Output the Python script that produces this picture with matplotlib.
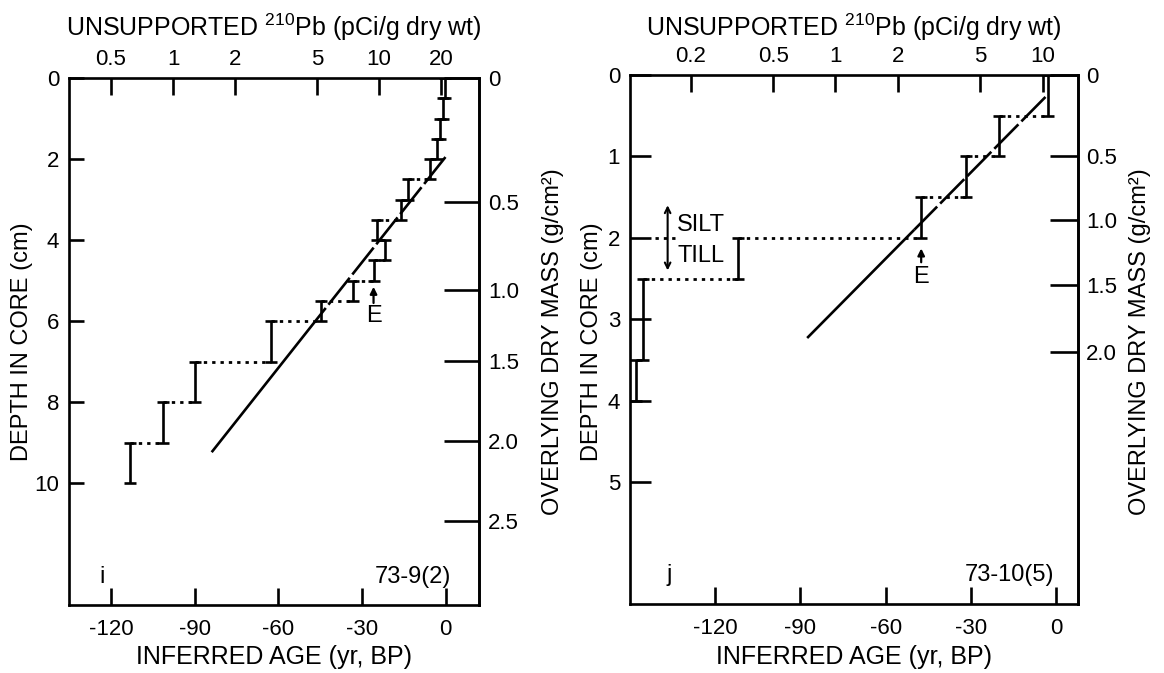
import matplotlib.pyplot as plt
from matplotlib.ticker import NullLocator

plt.rcParams['font.family'] = ['Liberation Sans', 'DejaVu Sans']
plt.rcParams['mathtext.fontset'] = 'custom'
plt.rcParams['mathtext.rm'] = 'Liberation Sans'

# ---------------------------
# Core 73-9(2)  (panel i)
# ---------------------------
i_top = [0, 0.5, 1.0, 1.5, 2.0, 2.5, 3.0, 3.5, 4.0, 4.5, 5.0, 5.5, 6.0, 7.0, 8.0, 9.0]
i_bot = [0.5, 1.0, 1.5, 2.0, 2.5, 3.0, 3.5, 4.0, 4.5, 5.0, 5.5, 6.0, 7.0, 8.0, 9.0, 10.0]
i_pb = [21.0, 20.4, 19.8, 19.0, 17.7, 13.8, 12.8, 9.8, 10.7, 9.4, 7.5, 5.2, 3.0, 1.28, 0.89, 0.62]
i_fit_depth = [1.95, 6.0, 9.23]
i_fit_pb = [21.0, 4.9, 1.54]
i_mass = ["0", "0.5", "1.0", "1.5", "2.0", "2.5"]
i_mass_depth = [0, 3.05, 5.22, 6.97, 8.96, 10.93]
i_depth_ticks = [0, 2, 4, 6, 8, 10]
i_pb_ticks = [0.5, 1, 2, 5, 10, 20]
i_pb_labels = ["0.5", "1", "2", "5", "10", "20"]
i_age_ticks = [-120, -90, -60, -30, 0]

# ---------------------------
# Core 73-10(5)  (panel j)
# ---------------------------
j_top = [0, 0.5, 1.0, 1.5, 2.0, 2.5, 3.5]
j_bot = [0.5, 1.0, 1.5, 2.0, 2.5, 3.5, 4.0]
j_pb = [10.6, 6.14, 4.27, 2.59, 0.338, 0.118, 0.109]
j_fit_depth = [0.27, 1.9, 3.23]
j_fit_pb = [10.3, 2.4, 0.73]
j_mass = ["0", "0.5", "1.0", "1.5", "2.0"]
j_mass_depth = [0, 1.0, 1.78, 2.58, 3.40]
j_depth_ticks = [0, 1, 2, 3, 4, 5]
j_pb_ticks = [0.2, 0.5, 1, 2, 5, 10]
j_pb_labels = ["0.2", "0.5", "1", "2", "5", "10"]
j_age_ticks = [-120, -90, -60, -30, 0]

LW = 1.9
TICKFS = 16
LABFS = 17


def panel(rect, top, bot, pb, fit_d, fit_pb, depth_max, pb_lim, age_lim,
          depth_ticks, pb_ticks, pb_labels, age_ticks, mass, mass_depth,
          ltick, rtick):
    ax = fig.add_axes(rect)
    ax.set_xlim(age_lim)
    ax.set_ylim(depth_max, 0)
    ax.set_xticks(age_ticks, labels=[str(a) for a in age_ticks])
    ax.set_yticks(depth_ticks, labels=[str(d) for d in depth_ticks])
    ax.tick_params(axis='x', direction='in', length=12, width=LW, pad=10,
                   labelsize=TICKFS)
    ax.tick_params(axis='y', direction='in', length=ltick, width=LW, pad=7,
                   labelsize=TICKFS)
    for s in ax.spines.values():
        s.set_linewidth(LW)

    tp = ax.twiny()
    tp.set_xscale('log')
    tp.set_xlim(pb_lim)
    tp.set_xticks(pb_ticks, labels=pb_labels)
    tp.xaxis.set_minor_locator(NullLocator())
    tp.tick_params(axis='x', direction='in', length=12, width=LW, pad=6,
                   labelsize=TICKFS)

    rs = ax.secondary_yaxis('right')
    rs.set_yticks(mass_depth, labels=mass)
    rs.tick_params(direction='in', length=rtick, width=LW, pad=6,
                   labelsize=TICKFS)
    rs.spines['right'].set_linewidth(LW)

    # sample intervals
    for t, b, a in zip(top, bot, pb):
        tp.errorbar(a, (t + b) / 2, yerr=(b - t) / 2, fmt='none', ecolor='k',
                    elinewidth=LW, capsize=4, capthick=LW)
    # dotted steps between successive intervals
    for k in range(len(pb) - 1):
        tp.plot([pb[k + 1], pb[k]], [bot[k], bot[k]], color='k', lw=2,
                ls=(0, (1.2, 1.8)))
    # fitted profile: dashed upper part, solid lower part
    tp.plot(fit_pb[:2], fit_d[:2], color='k', lw=LW, dashes=(13, 1.6))
    tp.plot(fit_pb[1:], fit_d[1:], color='k', lw=LW, solid_capstyle='butt')
    return ax, tp


fig = plt.figure(figsize=(11.64, 6.73), dpi=100)

ax1, tp1 = panel([0.0591, 0.1010, 0.3528, 0.7831], i_top, i_bot, i_pb,
                 i_fit_depth, i_fit_pb, 13.0, (0.312, 30.7), (-135.2, 12.1),
                 i_depth_ticks, i_pb_ticks, i_pb_labels, i_age_ticks,
                 i_mass, i_mass_depth, 11, 25)
ax2, tp2 = panel([0.5412, 0.1021, 0.3845, 0.7865], j_top, j_bot, j_pb,
                 j_fit_depth, j_fit_pb, 6.5, (0.102, 14.7), (-150, 7.5),
                 j_depth_ticks, j_pb_ticks, j_pb_labels, j_age_ticks,
                 j_mass, j_mass_depth, 15, 20)

# "E" markers
arrow = dict(arrowstyle='-|>', color='k', lw=1.6, mutation_scale=10,
             shrinkA=0, shrinkB=0)
tp1.annotate('', xy=(9.4, 5.15), xytext=(9.4, 5.55), arrowprops=arrow)
tp1.text(9.4, 5.86, 'E', ha='center', va='center', fontsize=LABFS)
tp2.annotate('', xy=(2.59, 2.13), xytext=(2.59, 2.3), arrowprops=arrow)
tp2.text(2.59, 2.48, 'E', ha='center', va='center', fontsize=LABFS)

# silt / till boundary
tp2.annotate('', xy=(0.155, 1.6), xytext=(0.155, 2.4),
             arrowprops=dict(arrowstyle='<->', color='k', lw=1.5,
                             mutation_scale=10, shrinkA=0, shrinkB=0))
tp2.plot([0.135, 0.172], [2.0, 2.0], color='k', lw=2, ls=(0, (1.2, 1.8)))
tp2.text(0.172, 1.84, 'SILT', ha='left', va='center', fontsize=LABFS)
tp2.text(0.172, 2.22, 'TILL', ha='left', va='center', fontsize=LABFS)

# panel letters and core names
ax1.text(0.080, 0.053, 'i', transform=ax1.transAxes, fontsize=LABFS,
         ha='center', va='center')
ax1.text(0.930, 0.053, '73-9(2)', transform=ax1.transAxes, fontsize=LABFS,
         ha='right', va='center')
ax2.text(0.087, 0.055, 'j', transform=ax2.transAxes, fontsize=LABFS,
         ha='center', va='center')
ax2.text(0.948, 0.055, '73-10(5)', transform=ax2.transAxes, fontsize=LABFS,
         ha='right', va='center')

# axis titles
W, H = 1164, 673
top_title = r'UNSUPPORTED $^{210}$Pb (pCi/g dry wt)'
for cx, lx, rx in [(274, 22, 553), (854, 592, 1140)]:
    fig.text(cx / W, 1 - 27 / H, top_title, ha='center', va='center',
             fontsize=18)
    fig.text(cx / W, 1 - 657 / H, 'INFERRED AGE (yr, BP)', ha='center',
             va='center', fontsize=18)
    fig.text(lx / W, 1 - 342 / H, 'DEPTH IN CORE (cm)', rotation=90,
             ha='center', va='center', fontsize=LABFS)
    fig.text(rx / W, 1 - 342 / H, 'OVERLYING DRY MASS (g/cm²)', rotation=90,
             ha='center', va='center', fontsize=LABFS)

fig.savefig('out.png', dpi=100)
